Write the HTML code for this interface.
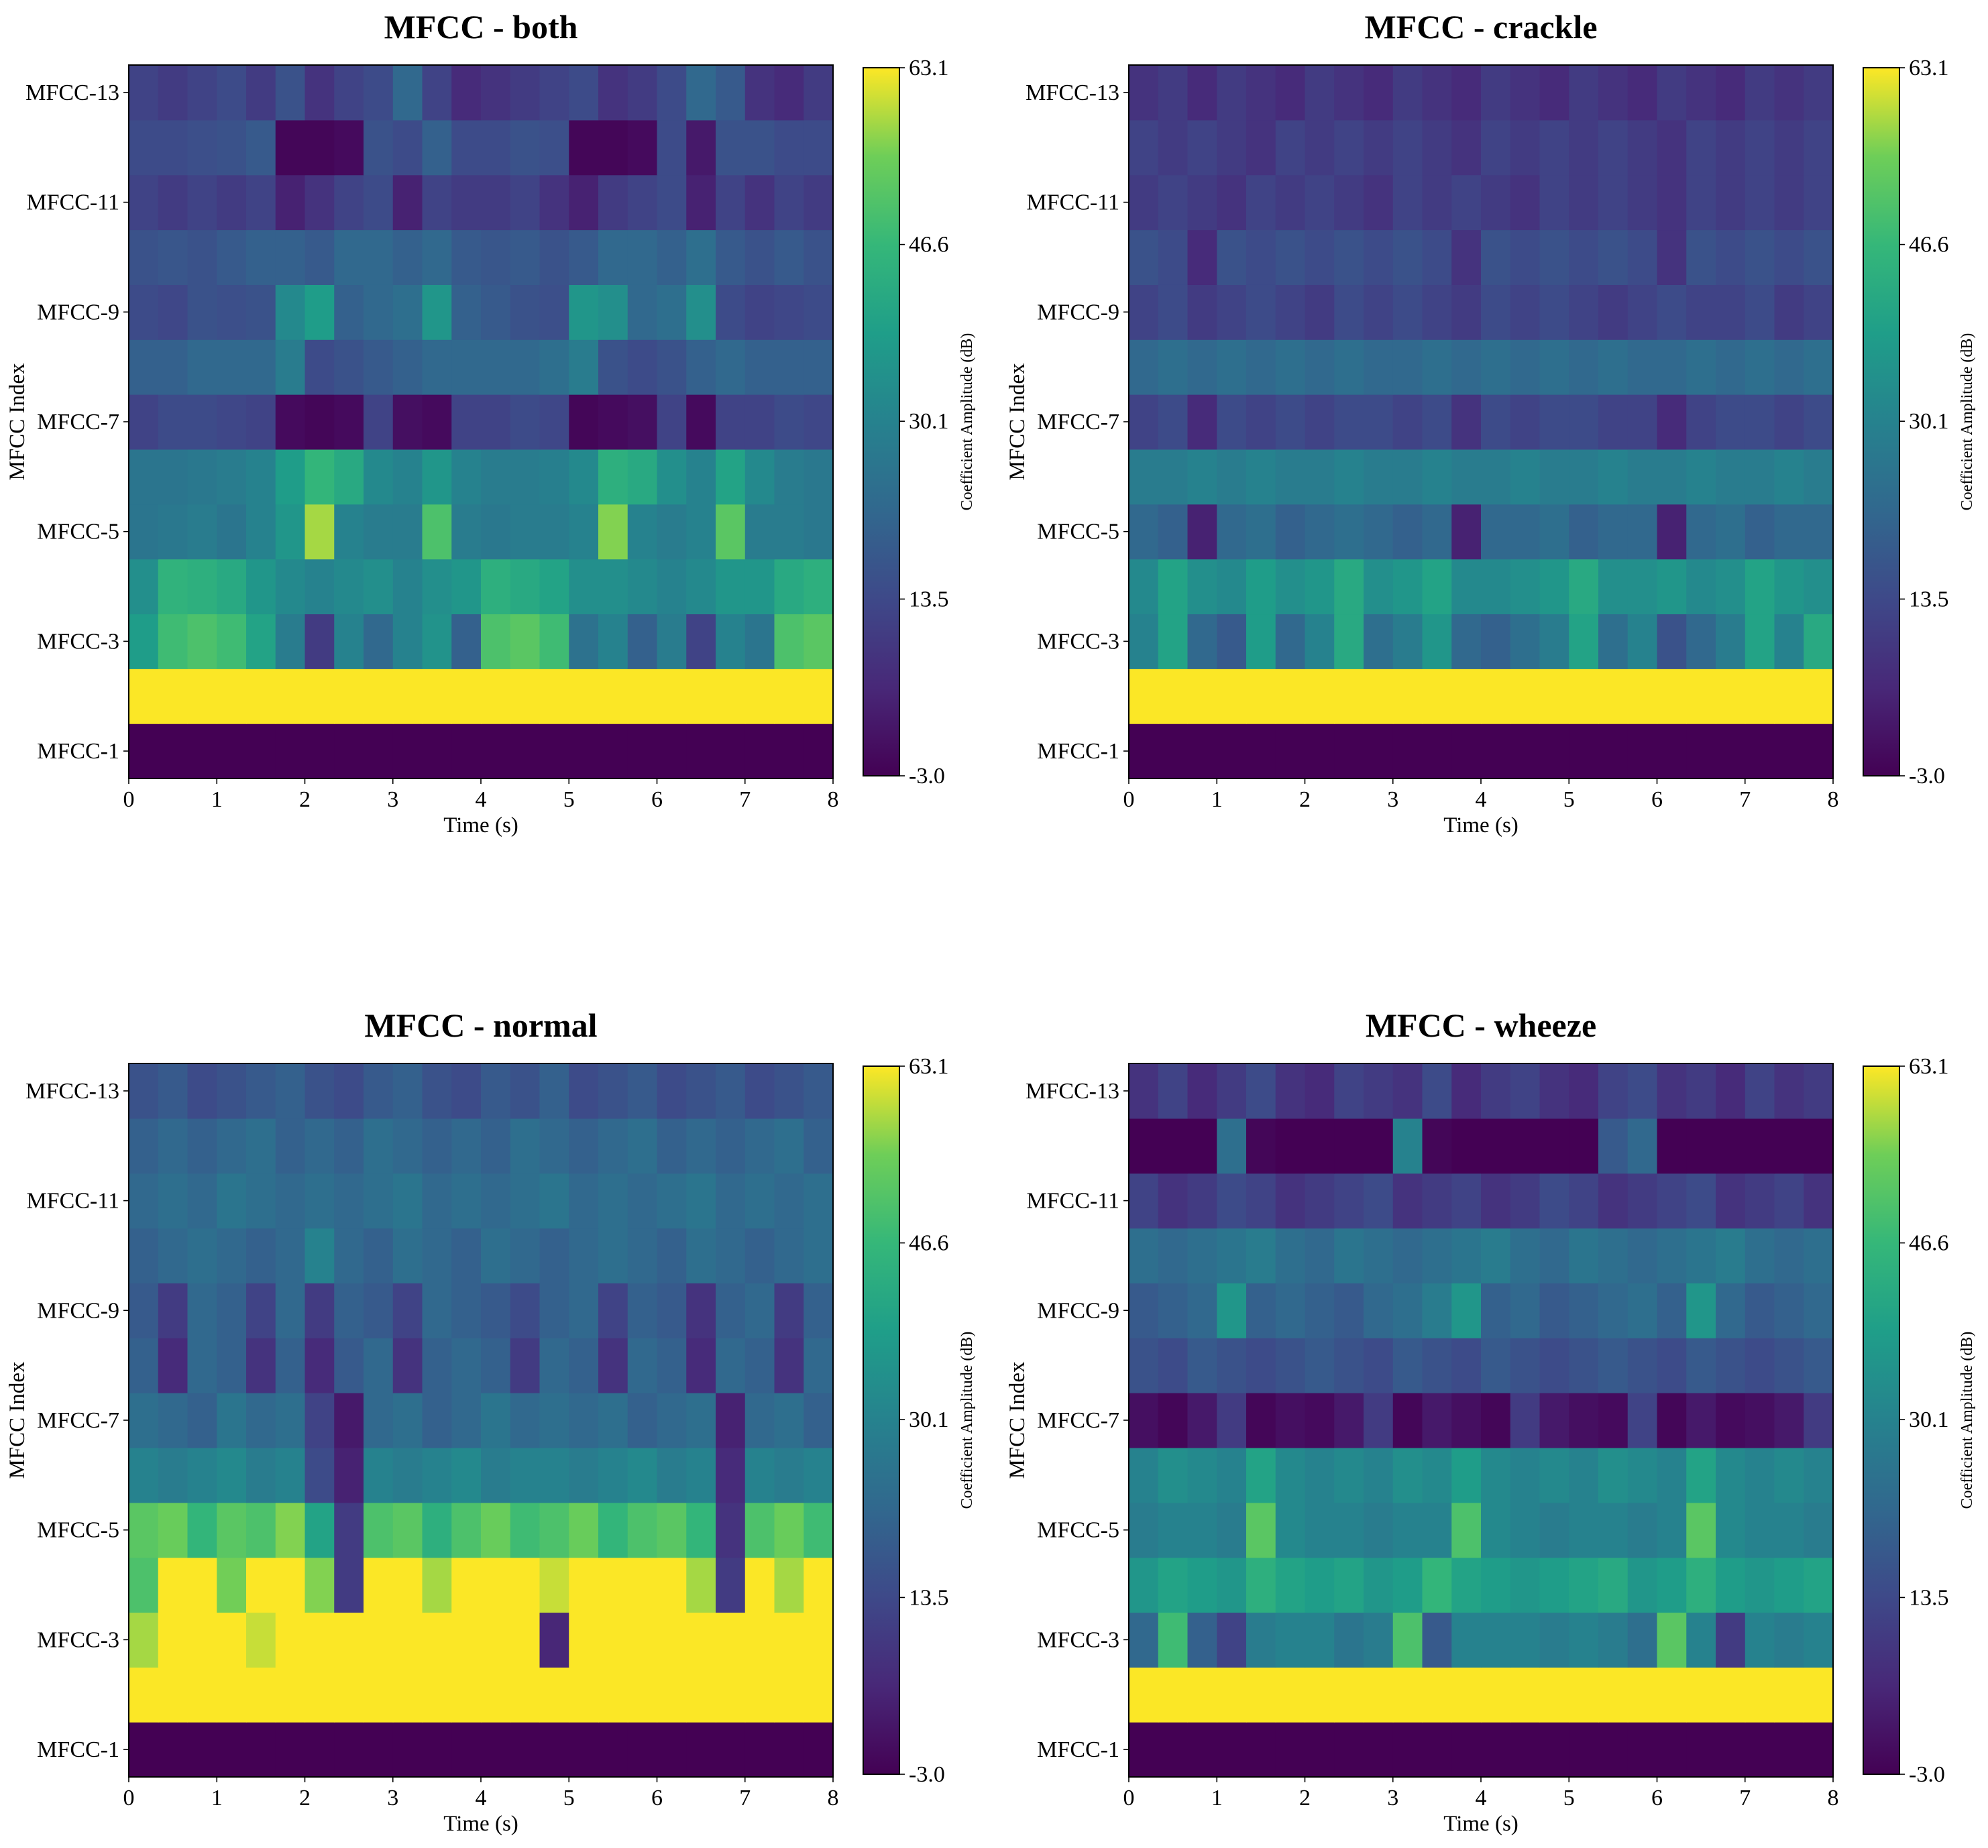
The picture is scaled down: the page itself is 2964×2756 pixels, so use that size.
<!DOCTYPE html>
<html><head><meta charset="utf-8">
<style>
html,body{margin:0;padding:0;background:#fff;}
svg text{font-family:"Liberation Serif",serif;fill:#000;}
</style></head>
<body>
<svg id="fig" width="2964" height="2751" viewBox="0 0 2964 2751" xmlns="http://www.w3.org/2000/svg">
<defs>
<linearGradient id="vir" x1="0" y1="1" x2="0" y2="0">
<stop offset="0" stop-color="#440154"/><stop offset="0.125" stop-color="#482878"/>
<stop offset="0.25" stop-color="#3e4989"/><stop offset="0.375" stop-color="#31688e"/>
<stop offset="0.5" stop-color="#26828e"/><stop offset="0.625" stop-color="#1f9e89"/>
<stop offset="0.75" stop-color="#35b779"/><stop offset="0.875" stop-color="#6ece58"/>
<stop offset="1" stop-color="#fde725"/>
</linearGradient>
</defs>
</svg>
<script>
const titles = ["MFCC - both","MFCC - crackle","MFCC - normal","MFCC - wheeze"];
const rowLabels = ["MFCC-1","MFCC-3","MFCC-5","MFCC-7","MFCC-9","MFCC-11","MFCC-13"];
const timeTicks = [0,1,2,3,4,5,6,7,8];
const cbarTicks = [-3.0,13.5,30.1,46.6,63.1];
const vmin = -3.0, vmax = 63.1, tMax = 8;
const F = Array(24).fill(-3), Y = Array(24).fill(63);
const both = [F,Y,
[38,48,50,48,40,28,10,30,22,30,35,20,50,52,48,25,30,20,28,12,30,26,50,52],
[34,45,44,42,36,32,30,32,34,30,34,36,44,42,40,34,34,32,30,32,36,36,42,44],
[26,27,28,26,30,36,58,30,28,28,50,28,27,28,28,30,56,30,28,30,52,28,28,27],
[26,26,27,28,30,38,46,42,32,30,36,30,28,28,29,32,44,42,34,30,40,32,28,27],
[12,14,14,13,12,-1,-2,-1,12,0,-1,12,12,14,13,-2,-1,0,12,-1,12,12,14,13],
[20,20,22,22,22,28,14,16,18,20,22,22,22,22,24,28,16,14,16,20,22,20,20,20],
[14,13,16,15,16,32,38,20,22,24,36,20,18,16,15,36,34,22,24,34,14,12,13,14],
[16,17,16,18,20,20,18,22,22,20,22,18,17,18,16,18,22,22,20,24,18,16,18,16],
[12,10,12,10,12,4,8,12,14,4,12,10,10,12,8,4,10,12,14,4,12,8,12,10],
[14,14,15,16,18,-2,-2,-1,16,14,20,14,14,16,15,-2,-2,-1,14,2,16,16,14,14],
[12,10,12,14,10,16,8,12,14,22,12,6,8,10,12,14,8,10,14,22,18,8,6,10]];
const crackle = [F,Y,
[30,40,22,18,38,22,30,42,24,28,36,22,20,24,28,40,24,30,16,22,28,40,30,42],
[32,40,34,32,38,34,36,42,34,36,40,32,32,34,36,42,34,34,36,32,34,40,36,34],
[22,20,4,22,24,20,22,24,22,20,22,4,22,22,24,20,22,22,4,22,24,20,22,22],
[28,28,30,28,30,28,28,30,28,28,30,28,28,30,28,28,30,28,28,30,28,28,30,28],
[12,14,6,14,12,14,12,14,14,12,14,8,14,12,14,14,12,12,6,12,14,14,12,14],
[22,24,22,24,22,24,22,24,22,22,24,22,24,22,24,22,24,22,22,24,22,24,22,24],
[12,14,10,12,14,12,10,14,12,14,12,10,14,12,14,12,10,12,14,12,12,14,10,12],
[16,14,6,16,14,16,14,16,14,16,14,8,16,14,16,14,16,14,8,16,14,16,14,16],
[10,12,10,8,12,10,12,10,8,12,10,12,10,8,12,10,12,10,8,12,10,12,10,12],
[12,10,12,10,8,12,10,12,10,12,10,8,12,10,12,10,12,10,8,12,10,12,10,12],
[8,10,6,10,8,6,10,8,6,10,8,6,10,8,6,10,8,6,10,8,6,10,8,10]];
const normal = [F,Y,
[58,63,63,63,60,63,63,63,63,63,63,63,63,63,5,63,63,63,63,63,63,63,63,63],
[50,63,63,55,63,63,56,10,63,63,58,63,63,63,60,63,63,63,63,58,10,63,58,63],
[52,54,46,52,50,56,40,10,50,52,44,50,54,48,50,54,46,50,52,46,8,50,54,48],
[30,28,30,32,28,30,14,4,30,28,30,32,28,30,30,28,30,32,28,30,6,30,28,30],
[24,22,20,26,22,24,12,2,22,24,20,22,26,22,24,22,24,20,22,24,4,22,24,20],
[20,6,22,20,8,20,6,18,22,8,20,22,20,10,22,20,8,22,20,6,22,20,8,22],
[18,10,22,20,12,22,10,20,18,12,22,20,18,14,20,22,12,20,18,8,20,22,10,20],
[20,22,24,22,20,22,30,22,20,24,22,20,24,22,20,22,24,22,20,24,22,20,22,24],
[22,24,22,26,24,22,24,22,24,26,22,24,22,24,26,22,24,22,24,26,22,24,22,24],
[20,22,20,22,24,20,22,20,24,22,20,22,20,24,22,20,22,24,20,22,20,22,24,20],
[16,18,14,16,18,20,16,14,18,20,16,14,18,16,20,14,16,18,14,16,18,14,16,18]];
const wheeze = [F,Y,
[22,48,20,12,28,30,30,26,28,50,18,30,30,30,28,30,28,24,52,30,10,30,28,30],
[36,40,38,36,44,40,38,40,36,38,46,40,38,36,38,40,42,36,38,44,38,36,38,40],
[28,30,30,28,52,32,30,30,28,30,30,50,32,30,28,30,30,28,30,52,32,30,30,28],
[30,34,32,30,40,32,30,32,30,34,32,38,32,30,32,30,34,32,30,40,32,30,32,30],
[0,-2,2,10,-2,0,-1,2,10,-2,2,0,-2,10,2,0,-1,12,-2,2,-1,0,2,10],
[16,14,18,16,14,16,18,16,14,18,16,14,18,16,14,16,18,16,14,18,16,14,16,18],
[18,20,22,36,20,22,20,18,22,24,28,36,20,22,18,20,22,24,20,36,22,18,20,22],
[24,22,24,26,28,24,22,26,24,22,24,26,28,24,22,26,24,22,24,26,28,24,22,24],
[12,8,10,14,12,8,10,12,14,8,10,12,8,10,14,12,8,10,12,14,8,10,12,8],
[-3,-3,-3,24,-2,-3,-3,-3,-3,30,-2,-3,-3,-3,-3,-3,18,22,-3,-3,-3,-3,-3,-3],
[8,12,6,10,14,8,6,12,10,8,14,6,10,12,8,6,12,14,8,10,6,12,8,10]];
const panelsData = [both, crackle, normal, wheeze];

const VS=[[68,1,84],[72,40,120],[62,73,137],[49,104,142],[38,130,142],[31,158,137],[53,183,121],[110,206,88],[253,231,37]];
function viridis(v){let t=Math.max(0,Math.min(1,(v-vmin)/(vmax-vmin)))*8;let i=Math.min(7,Math.floor(t));let f=t-i;
const a=VS[i],b=VS[i+1];return `rgb(${a.map((c,k)=>Math.round(c+(b[k]-c)*f)).join(',')})`;}
const NS="http://www.w3.org/2000/svg", svg=document.getElementById('fig');
function mk(tag,attrs,parent,text){const e=document.createElementNS(NS,tag);for(const k in attrs)e.setAttribute(k,attrs[k]);if(text!==undefined)e.textContent=text;(parent||svg).appendChild(e);return e;}
const PW=1050, PH=1064;
const origins=[[192,97],[1683,97],[192,1586],[1683,1586]];
panelsData.forEach((data,p)=>{
  const [x0,y0]=origins[p];
  const g=mk('g',{});
  
  
  const xs=t=>x0+t/tMax*PW;
  const ys=r=>y0+PH-(r)*PH/13;
  const tt=mk('text',{x:x0+PW/2,y:y0-40,'text-anchor':'middle','font-size':50,'font-weight':'bold'},g,titles[p]);
  
  
  data.forEach((row,r)=>{
    const n=row.length;
    row.forEach((v,c)=>{
      const rc=mk('rect',{x:xs(c*tMax/n),y:ys(r+1),width:xs((c+1)*tMax/n)-xs(c*tMax/n)+0.6,height:PH/13+0.6,fill:viridis(v)},g);
      
      
    });
  });
  mk('rect',{x:x0,y:y0,width:PW,height:PH,fill:'none',stroke:'#000','stroke-width':2},g);
  timeTicks.forEach(t=>{
    mk('line',{x1:xs(t),x2:xs(t),y1:y0+PH,y2:y0+PH+8,stroke:'#000','stroke-width':1.6},g);
    const l=mk('text',{x:xs(t),y:y0+PH+42,'text-anchor':'middle','font-size':34},g,String(t));
    
    
  });
  rowLabels.forEach((lab,i)=>{
    const yc=ys(2*i+0.5);
    mk('line',{x1:x0-8,x2:x0,y1:yc,y2:yc,stroke:'#000','stroke-width':1.6},g);
    const l=mk('text',{x:x0-14,y:yc+11,'text-anchor':'end','font-size':34},g,lab);
    
    
  });
  const xl=mk('text',{x:x0+PW/2,y:y0+PH+80,'text-anchor':'middle','font-size':33},g,'Time (s)');
  
  
  const yl=mk('text',{x:0,y:0,'text-anchor':'middle','font-size':33,transform:`translate(${x0-156},${y0+PH/2}) rotate(-90)`},g,'MFCC Index');
  
  
  const cx=x0+1095, cy0=y0+4, cy1=y0+PH-4, cw=54;
  const cb=mk('rect',{x:cx,y:cy0,width:cw,height:cy1-cy0,fill:'url(#vir)',stroke:'#000','stroke-width':2},g);
  
  
  cbarTicks.forEach(v=>{
    const yy=cy1-(v-vmin)/(vmax-vmin)*(cy1-cy0);
    mk('line',{x1:cx+cw,x2:cx+cw+8,y1:yy,y2:yy,stroke:'#000','stroke-width':1.6},g);
    const l=mk('text',{x:cx+cw+14,y:yy+11,'font-size':34},g,v.toFixed(1));
    
    
  });
  const cl=mk('text',{x:0,y:0,'text-anchor':'middle','font-size':24,transform:`translate(${cx+cw+108},${(cy0+cy1)/2}) rotate(-90)`},g,'Coefficient Amplitude (dB)');
  
  
});
</script>
</body></html>
